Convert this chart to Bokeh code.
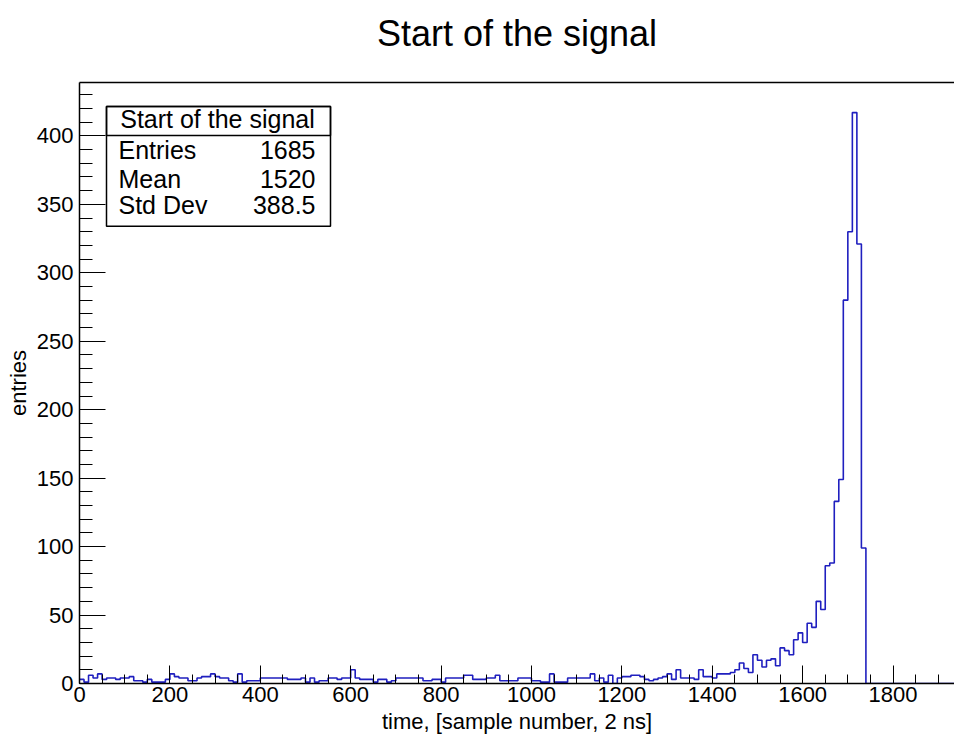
from bokeh.plotting import figure
from bokeh.models import Range1d, FixedTicker, BoxAnnotation, Label, LinearAxis
from bokeh.embed import file_html
from bokeh.resources import INLINE

# ---------------- data ----------------
bin_width = 10  # sample numbers per bin, first bin starts at 0
counts = [
    3, 1, 6, 4, 7, 3, 4, 4, 3, 4,          # 0-99
    4, 5, 2, 2, 1, 3, 1, 1, 1, 3,          # 100-199
    7, 5, 4, 4, 2, 2, 4, 5, 5, 7,          # 200-299
    5, 4, 4, 2, 1, 7, 1, 2, 2, 2,          # 300-399
    4, 4, 4, 4, 4, 4, 3, 3, 3, 4,          # 400-499
    1, 4, 1, 2, 2, 4, 4, 3, 4, 4,          # 500-599
    10, 4, 3, 3, 3, 1, 3, 3, 1, 2,         # 600-699
    4, 4, 4, 4, 4, 4, 2, 2, 3, 3,          # 700-799
    1, 4, 4, 4, 4, 6, 6, 3, 3, 3,          # 800-899
    4, 4, 6, 2, 2, 2, 2, 4, 4, 4,          # 900-999
    2, 2, 1, 1, 7, 1, 1, 1, 4, 4,          # 1000-1099
    4, 4, 4, 7, 2, 4, 1, 6, 0, 4,          # 1100-1199
    5, 5, 6, 6, 5, 3, 2, 3, 4, 5,          # 1200-1299
    7, 3, 10, 4, 4, 4, 3, 10, 5, 5,        # 1300-1399
    4, 7, 7, 7, 8, 10, 15, 11, 8, 21,      # 1400-1499
    17, 12, 17, 18, 13, 26, 24, 21, 32, 37,  # 1500-1599
    30, 44, 41, 60, 54, 86, 88, 133, 149, 280,  # 1600-1699
    330, 417, 321, 99,                     # 1700-1739
]
x_major = [0, 200, 400, 600, 800, 1000, 1200, 1400, 1600, 1800]
y_major = [0, 50, 100, 150, 200, 250, 300, 350, 400]
x_minor_step = 50
y_minor_step = 10
title_text = "Start of the signal"
x_title = "time, [sample number, 2 ns]"
y_title = "entries"
stats_rows = [("Entries", "1685"), ("Mean", "1520"), ("Std Dev", "388.5")]

# ---------------- geometry ----------------
W, H = 954, 736
FL, FR, FT, FB = 79, 954, 82, 684
X_END = 1936.0
Y_END = 439.0
FONT = "Liberation Sans"
LABEL_SHIFT = 8  # correction between requested and rendered text baseline


def dx(px):
    return (px - FL) / (FR - FL) * X_END


def dy(py):
    return (FB - py) / (FB - FT) * Y_END


p = figure(width=W, height=H, output_backend="svg", toolbar_location=None,
           x_range=Range1d(0, X_END), y_range=Range1d(0, Y_END),
           min_border_left=FL, min_border_right=W - FR,
           min_border_top=FT, min_border_bottom=H - FB)
p.background_fill_color = "white"
p.border_fill_color = "white"
p.outline_line_color = None
p.xgrid.grid_line_color = None
p.ygrid.grid_line_color = None

xa = p.below[0]
ya = p.left[0]

# title
p.title.text = title_text
p.title.text_font = FONT
p.title.text_font_size = "36px"
p.title.text_font_style = "normal"
p.title.text_color = "black"
p.title.align = "center"
p.title.offset = 5
p.title.standoff = 0

# histogram outline
n = len(counts)
xs = [i * bin_width for i in range(n)] + [n * bin_width, X_END]
ys = list(counts) + [0, 0]
p.step(xs, ys, mode="after", line_color="#1f1fbf", line_width=1.6)

# axes
xa.ticker = FixedTicker(ticks=x_major,
                        minor_ticks=list(range(0, 1951, x_minor_step)))
xa.major_tick_in = 18
xa.major_tick_out = 0
xa.minor_tick_in = 9
xa.minor_tick_out = 0
xa.major_label_text_font = FONT
xa.major_label_text_font_size = "22px"
xa.major_label_text_color = "black"
xa.major_label_standoff = 3
xa.axis_line_color = "black"
xa.axis_line_width = 1.5
xa.major_tick_line_color = "black"
xa.minor_tick_line_color = "black"
xa.axis_label = x_title
xa.axis_label_text_font = FONT
xa.axis_label_text_font_size = "22px"
xa.axis_label_text_font_style = "normal"
xa.axis_label_text_color = "black"
xa.axis_label_standoff = 4

ya.ticker = FixedTicker(ticks=y_major,
                        minor_ticks=list(range(0, 440, y_minor_step)))
ya.major_tick_in = 26
ya.major_tick_out = 0
ya.minor_tick_in = 13
ya.minor_tick_out = 0
ya.major_label_text_font = FONT
ya.major_label_text_font_size = "22px"
ya.major_label_text_color = "black"
ya.major_label_standoff = 6
ya.axis_line_color = "black"
ya.axis_line_width = 1.5
ya.major_tick_line_color = "black"
ya.minor_tick_line_color = "black"
ya.axis_label = y_title
ya.axis_label_text_font = FONT
ya.axis_label_text_font_size = "22px"
ya.axis_label_text_font_style = "normal"
ya.axis_label_text_color = "black"
ya.axis_label_standoff = 3

# top frame line (no ticks, like the ROOT frame); its blank label only
# reserves the gap between the frame and the title
top = LinearAxis(ticker=FixedTicker(ticks=[]), major_label_text_font_size="0px",
                 major_tick_in=0, major_tick_out=0, minor_tick_in=0, minor_tick_out=0,
                 major_label_standoff=0, axis_line_color="black", axis_line_width=1.5,
                 axis_label=" ", axis_label_text_font_size="20px",
                 axis_label_standoff=4)
p.add_layout(top, "above")

# stats box
p.add_layout(BoxAnnotation(left=dx(106), right=dx(330), top=dy(106), bottom=dy(226),
                           fill_color="white", fill_alpha=1.0,
                           line_color="black", line_alpha=1.0, line_width=1.5,
                           level="annotation"))
p.add_layout(BoxAnnotation(left=dx(106), right=dx(330), top=dy(106), bottom=dy(135),
                           fill_alpha=0.0, line_color="black", line_alpha=1.0,
                           line_width=1.5, level="annotation"))
p.add_layout(Label(x=dx(217), y=dy(127 - LABEL_SHIFT), text=title_text,
                   text_align="center", text_baseline="alphabetic", text_font=FONT,
                   text_font_size="25px", text_color="black"))
row_baselines = [158, 186.5, 213]
for (name, val), b in zip(stats_rows, row_baselines):
    p.add_layout(Label(x=dx(118), y=dy(b - LABEL_SHIFT), text=name, text_align="left",
                       text_baseline="alphabetic", text_font=FONT,
                       text_font_size="25px", text_color="black"))
    p.add_layout(Label(x=dx(315), y=dy(b - LABEL_SHIFT), text=val, text_align="right",
                       text_baseline="alphabetic", text_font=FONT,
                       text_font_size="25px", text_color="black"))

open("out.html", "w").write(file_html(p, INLINE))
